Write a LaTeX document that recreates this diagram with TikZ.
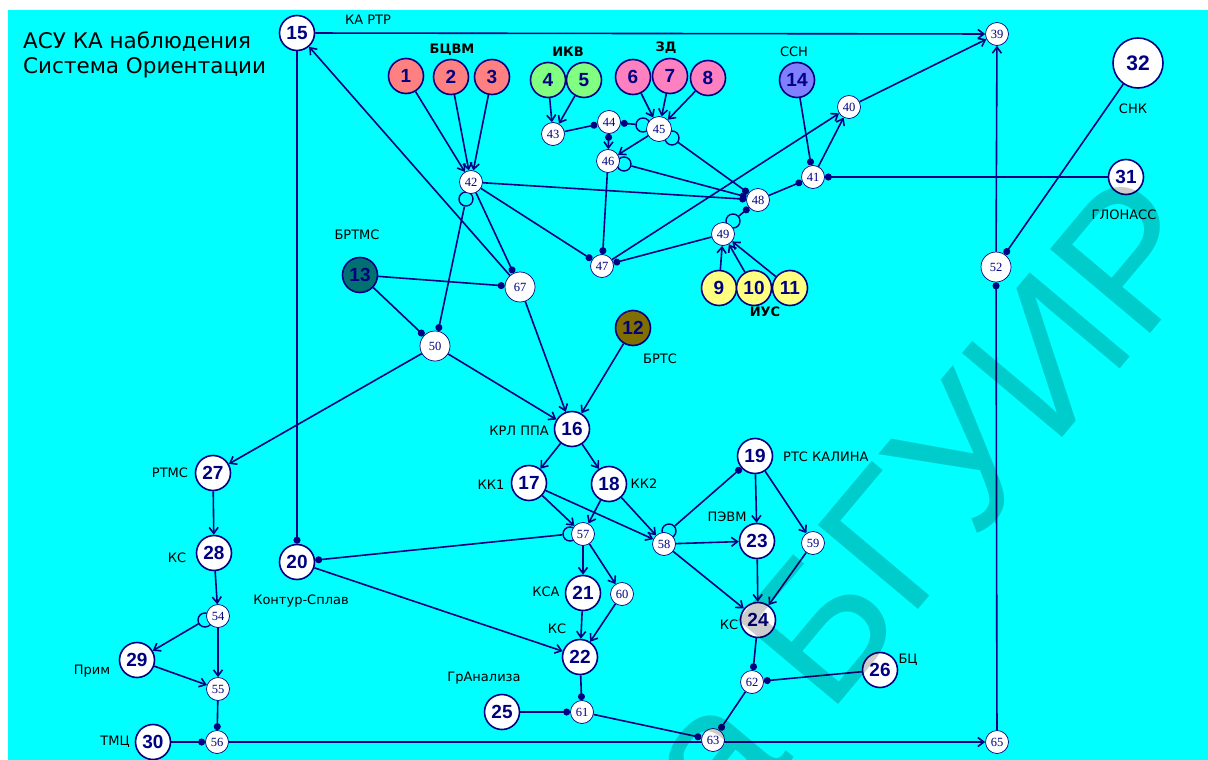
\documentclass[tikz,border=0pt]{standalone}
\usepackage{fontspec}
\setmainfont{DejaVu Sans}
\newfontfamily\numfont{Liberation Sans}
\newfontfamily\smallnum{Liberation Serif}
\newfontfamily\wmfont{Liberation Sans}
\usetikzlibrary{arrows.meta}
\definecolor{bgc}{RGB}{0,255,255}
\definecolor{ln}{RGB}{0,0,128}
\definecolor{csalmon}{RGB}{255,128,128}
\definecolor{cgreen}{RGB}{128,255,128}
\definecolor{cpink}{RGB}{255,128,192}
\definecolor{cslate}{RGB}{128,128,255}
\definecolor{cyel}{RGB}{255,255,128}
\definecolor{cteal}{RGB}{0,112,112}
\definecolor{colive}{RGB}{128,110,0}
\pgfdeclarelayer{bg}
\pgfdeclarelayer{edges}
\pgfsetlayers{bg,edges,main}
\tikzset{
  big/.style={circle, draw=ln, line width=1.6, fill=white, minimum size=35, inner sep=0,
    font=\numfont\bfseries\fontsize{19}{19}\selectfont, text=ln},
  sm/.style={circle, draw=ln, line width=0.7, fill=white, minimum size=23, inner sep=0,
    font=\smallnum\fontsize{12.5}{12.5}\selectfont, text=ln},
  smb/.style={sm, minimum size=30},
  lp/.style={circle, draw=ln, line width=1.4, minimum size=14, inner sep=0},
  lbl/.style={font=\fontsize{13}{13}\selectfont, text=black, inner sep=0},
  blbl/.style={font=\bfseries\fontsize{13}{13}\selectfont, text=black, inner sep=0},
  ttl/.style={font=\fontsize{21.5}{21.5}\selectfont, text=black, inner sep=0, anchor=base west},
  ar/.style={draw=ln, line width=1.6, -{Straight Barb[length=6,width=9]}},
  dt/.style={draw=ln, line width=1.6, -{Circle[length=7]}},
}
\begin{document}
\begin{tikzpicture}[x=1pt,y=-1pt]
\useasboundingbox (0,0) rectangle (1208,760);
\begin{pgfonlayer}{bg}
\fill[white] (0,0) rectangle (1208,760);
\fill[bgc] (8,10) rectangle (1208,760);
\end{pgfonlayer}

% titles and labels
\node[ttl] (t1) at (23,49) {АСУ КА наблюдения};
\node[ttl] (t2) at (23,74) {Система Ориентации};
\node[lbl] (lkartr) at (368,20) {КА РТР};
\node[blbl] (lbcvm) at (452,50) {БЦВМ};
\node[blbl] (likv) at (568,52) {ИКВ};
\node[blbl] (lzd) at (666,48) {ЗД};
\node[lbl] (lssn) at (794,52) {ССН};
\node[lbl] (lsnk) at (1133,109) {СНК};
\node[lbl] (lglon) at (1124,215) {ГЛОНАСС};
\node[lbl] (lbrtms) at (357,235) {БРТМС};
\node[lbl] (lbrts) at (660,359) {БРТС};
\node[blbl] (lius) at (765,312) {ИУС};
\node[lbl, anchor=east] (lkrl) at (549,431) {КРЛ ППА};
\node[lbl] (lkk1) at (491,485) {КК1};
\node[lbl] (lkk2) at (644,484) {КК2};
\node[lbl, anchor=west] (lrts) at (783,457) {РТС КАЛИНА};
\node[lbl] (lpevm) at (727,517) {ПЭВМ};
\node[lbl] (lrtms) at (170,473) {РТМС};
\node[lbl] (lks1) at (177,558) {КС};
\node[lbl] (lkontur) at (301,601) {Контур-Сплав};
\node[lbl] (lksa) at (546,592) {КСА};
\node[lbl] (lks2) at (557,629) {КС};
\node[lbl] (lks3) at (729,625) {КС};
\node[lbl] (lprim) at (92,671) {Прим};
\node[lbl] (lgra) at (484,678) {ГрАнализа};
\node[lbl] (lbc) at (908,660) {БЦ};
\node[lbl] (ltmc) at (115,742) {ТМЦ};

% loops (behind nodes)
\node[lp] (l45a) at (643,125) {};
\node[lp] (l45b) at (672,138) {};
\node[lp] (l46) at (624,164) {};
\node[lp] (l42) at (466,199) {};
\node[lp] (l49) at (733,221) {};
\node[lp] (l54) at (205,620) {};
\node[lp] (l57) at (570,534) {};
\node[lp] (l58) at (669,531) {};

% big nodes
\node[big] (n15) at (297,33) {15};
\node[big, fill=csalmon] (n1) at (406,76) {1};
\node[big, fill=csalmon] (n2) at (451,77) {2};
\node[big, fill=csalmon] (n3) at (492,77) {3};
\node[big, fill=cgreen] (n4) at (548,80) {4};
\node[big, fill=cgreen] (n5) at (584,80) {5};
\node[big, fill=cpink] (n6) at (633,77) {6};
\node[big, fill=cpink] (n7) at (670,76) {7};
\node[big, fill=cpink] (n8) at (708,78) {8};
\node[big, fill=cslate] (n14) at (797,80) {14};
\node[big, fill=cyel] (n9) at (719,288) {9};
\node[big, fill=cyel] (n10) at (754,288) {10};
\node[big, fill=cyel] (n11) at (790,288) {11};
\node[big, fill=cteal] (n13) at (360,275) {13};
\node[big, fill=colive] (n12) at (633,328) {12};
\node[big] (n16) at (572,429) {16};
\node[big] (n17) at (529,483) {17};
\node[big] (n18) at (609,484) {18};
\node[big] (n19) at (755,456) {19};
\node[big] (n20) at (297,562) {20};
\node[big] (n21) at (583,593) {21};
\node[big] (n22) at (580,657) {22};
\node[big] (n23) at (757,541) {23};
\node[big] (n24) at (758,620) {24};
\node[big] (n25) at (502,712) {25};
\node[big] (n26) at (880,670) {26};
\node[big] (n27) at (213,473) {27};
\node[big] (n28) at (214,553) {28};
\node[big] (n29) at (137,660) {29};
\node[big] (n30) at (153,742) {30};
\node[big] (n31) at (1126,177) {31};
\node[big, minimum size=50, font=\numfont\bfseries\fontsize{21}{21}\selectfont] (n32) at (1138,63) {32};

% small nodes
\node[sm] (n39) at (997,34) {39};
\node[sm] (n40) at (849,107) {40};
\node[sm] (n41) at (813,177) {41};
\node[sm] (n42) at (471,182) {42};
\node[sm] (n43) at (553,134) {43};
\node[sm] (n44) at (609,122) {44};
\node[sm, minimum size=25] (n45) at (659,129) {45};
\node[sm] (n46) at (608,161) {46};
\node[sm] (n47) at (602,266) {47};
\node[sm] (n48) at (758,200) {48};
\node[sm] (n49) at (723,234) {49};
\node[smb] (n50) at (435,346) {50};
\node[smb] (n52) at (996,267) {52};
\node[sm] (n54) at (218,616) {54};
\node[sm] (n55) at (218,689) {55};
\node[sm] (n56) at (217,742) {56};
\node[sm] (n57) at (583,534) {57};
\node[sm] (n58) at (664,544) {58};
\node[sm] (n59) at (813,543) {59};
\node[sm] (n60) at (622,594) {60};
\node[sm] (n61) at (582,712) {61};
\node[sm] (n62) at (752,682) {62};
\node[sm] (n63) at (713,740) {63};
\node[sm] (n65) at (997,742) {65};
\node[smb] (n67) at (520,287) {67};

\begin{pgfonlayer}{edges}
\path[ar] (n15) -- (n39);
\path[dt] (n15) -- (n20);
\path[ar] (n67) -- (n15);
\path[ar] (n1) -- (n42);
\path[ar] (n2) -- (n42);
\path[ar] (n3) -- (n42);
\path[ar] (n4) -- (n43);
\path[ar] (n5) -- (n43);
\path[dt] (n43) -- (n44);
\path[dt] (l45a) -- (n44);
\path[draw=ln, line width=1.6, {Circle[length=7]}-{Straight Barb[length=6,width=9]}] (n44) -- (n46);
\path[ar] (n6) -- (n45);
\path[ar] (n7) -- (n45);
\path[ar] (n8) -- (n45);
\path[ar] (n45) -- (n46);
\path[dt] (l45b) -- (n48);
\path[dt] (l46) -- (n48);
\path[dt] (n46) -- (n47);
\path[dt] (n42) -- (n48);
\path[dt] (n42) -- (n47);
\path[dt] (n42) -- (n67);
\path[dt] (l42) -- (n50);
\path[ar] (n47) -- (n40);
\path[dt] (n49) -- (n47);
\path[dt] (n48) -- (n41);
\path[ar] (n41) -- (n40);
\path[dt] (n14) -- (n41);
\path[dt] (n31) -- (n41);
\path[ar] (n40) -- (n39);
\path[dt] (l49) -- (n48);
\path[ar] (n9) -- (n49);
\path[ar] (n10) -- (n49);
\path[ar] (n11) -- (n49);
\path[ar] (n52) -- (n39);
\path[dt] (n32) -- (n52);
\path[dt] (n65) -- (n52);
\path[dt] (n13) -- (n67);
\path[dt] (n13) -- (n50);
\path[ar] (n67) -- (n16);
\path[ar] (n12) -- (n16);
\path[ar] (n50) -- (n16);
\path[ar] (n50) -- (n27);
\path[ar] (n16) -- (n17);
\path[ar] (n16) -- (n18);
\path[ar] (n17) -- (n57);
\path[ar] (n17) -- (n58);
\path[ar] (n18) -- (n57);
\path[ar] (n18) -- (n58);
\path[dt] (l57) -- (n20);
\path[ar] (n57) -- (n21);
\path[ar] (n57) -- (n60);
\path[ar] (n21) -- (n22);
\path[ar] (n60) -- (n22);
\path[ar] (n20) -- (n22);
\path[dt] (n22) -- (n61);
\path[dt] (n25) -- (n61);
\path[dt] (n61) -- (n63);
\path[dt] (l58) -- (n19);
\path[ar] (n58) -- (n23);
\path[ar] (n58) -- (n24);
\path[ar] (n19) -- (n23);
\path[ar] (n19) -- (n59);
\path[ar] (n23) -- (n24);
\path[ar] (n59) -- (n24);
\path[dt] (n24) -- (n62);
\path[dt] (n26) -- (n62);
\path[dt] (n62) -- (n63);
\path[ar] (n27) -- (n28);
\path[ar] (n28) -- (n54);
\path[ar] (l54) -- (n29);
\path[ar] (n54) -- (n55);
\path[ar] (n29) -- (n55);
\path[dt] (n55) -- (n56);
\path[dt] (n30) -- (n56);
\path[ar] (n56) -- (n65);
\end{pgfonlayer}

% watermark
\begin{scope}
\clip (0,0) rectangle (1208,760);
\node[rotate=50, anchor=base east, text=black, text opacity=0.2, inner sep=0,
  font=\wmfont\fontsize{190}{190}\selectfont] (wm) at (1222,248) {Библиотека БГУИР};
\end{scope}
\end{tikzpicture}
\end{document}
